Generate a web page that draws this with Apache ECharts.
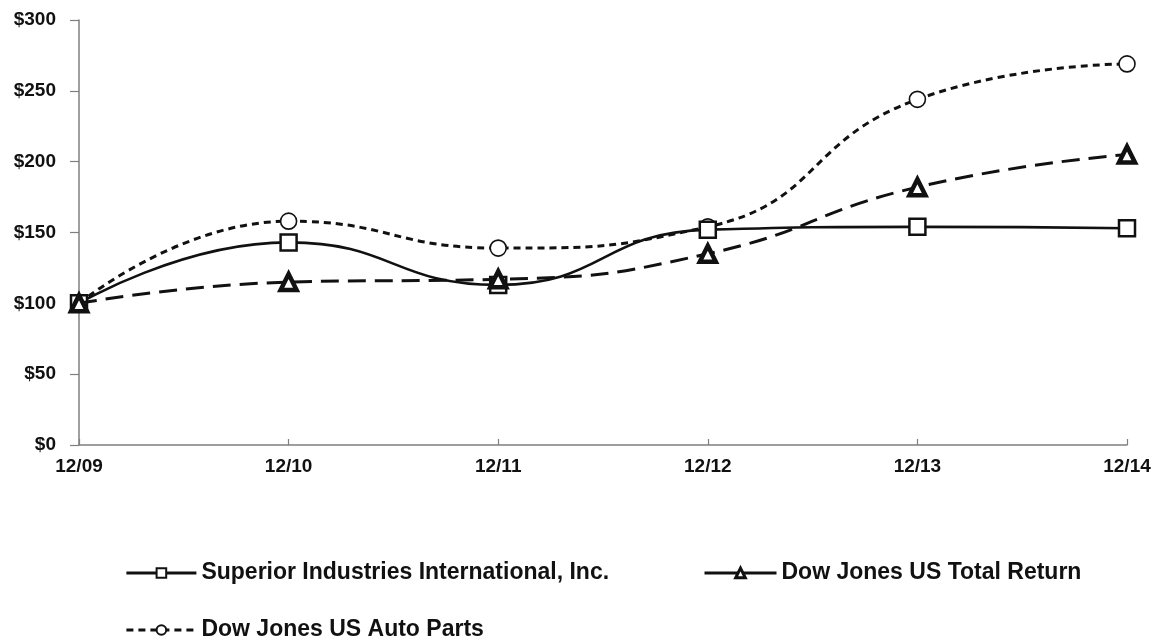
<!DOCTYPE html>
<html>
<head>
<meta charset="utf-8">
<title>Cumulative Total Return</title>
<script src="https://cdn.jsdelivr.net/npm/echarts@6/dist/echarts.min.js"></script>
<style>
  html, body { margin: 0; padding: 0; background: #ffffff; }
  #chart { width: 1156px; height: 640px; }
</style>
</head>
<body>
<div id="chart"></div>
<script>
// Fiscal year-end periods
const periods = ['12/09', '12/10', '12/11', '12/12', '12/13', '12/14'];

// Value of $100 invested, by period
const superiorValues   = [100, 143, 113, 152, 154, 153];
const totalReturnVals  = [100, 115, 117, 135, 182, 205];
const autoPartsValues  = [100, 158, 139, 154, 244, 269];

// Series names
const seriesNames = [
  'Superior Industries International, Inc.',
  'Dow Jones US Total Return',
  'Dow Jones US Auto Parts'
];

// Y axis range and tick step (dollars)
const yMin = 0, yMax = 300, yStep = 50;

const FONT = '"Liberation Sans", Arial, sans-serif';
const INK = '#111111';
const AXIS = '#7f7f7f';

const chart = echarts.init(document.getElementById('chart'), null, { renderer: 'canvas' });

const legendText = { fontFamily: FONT, fontSize: 23, fontWeight: 'bold', color: INK, lineHeight: 24 };

chart.setOption({
  animation: false,
  backgroundColor: '#ffffff',
  grid: { left: 79, right: 29, top: 20, bottom: 195, containLabel: false },
  xAxis: {
    type: 'category',
    data: periods,
    boundaryGap: false,
    axisLine: { lineStyle: { color: AXIS, width: 1.5 } },
    axisTick: { inside: true, length: 6, alignWithLabel: true, lineStyle: { color: AXIS, width: 1.2 } },
    axisLabel: { fontFamily: FONT, fontSize: 19, fontWeight: 'bold', color: INK, margin: 12 },
    splitLine: { show: false }
  },
  yAxis: {
    type: 'value',
    min: yMin,
    max: yMax,
    interval: yStep,
    axisLine: { show: true, lineStyle: { color: AXIS, width: 1.5 } },
    axisTick: { show: true, length: 9, lineStyle: { color: AXIS, width: 1.2 } },
    axisLabel: {
      fontFamily: FONT, fontSize: 19, fontWeight: 'bold', color: INK, margin: 23,
      formatter: v => '$' + v
    },
    splitLine: { show: false }
  },
  legend: [
    {
      data: [{ name: seriesNames[0], lineStyle: { width: 2.8 } }],
      left: 125, top: 561, padding: 0,
      itemWidth: 70, itemHeight: 12, textStyle: legendText
    },
    {
      data: [{ name: seriesNames[1], lineStyle: { type: 'solid', width: 3 }, itemStyle: { borderWidth: 3 } }],
      left: 703, top: 561, padding: 0,
      itemWidth: 72, itemHeight: 12, textStyle: legendText
    },
    {
      data: [{ name: seriesNames[2], lineStyle: { width: 2.8 } }],
      left: 125, top: 618, padding: 0,
      itemWidth: 70, itemHeight: 12, textStyle: legendText
    }
  ],
  series: [
    {
      name: seriesNames[0],
      type: 'line',
      data: superiorValues,
      smooth: 0.5,
      symbol: 'rect',
      symbolSize: 16,
      z: 3,
      lineStyle: { color: INK, width: 2.6, type: 'solid' },
      itemStyle: { color: '#ffffff', borderColor: INK, borderWidth: 2.5 }
    },
    {
      name: seriesNames[1],
      type: 'line',
      data: totalReturnVals,
      smooth: 0.5,
      symbol: 'triangle',
      symbolSize: 16,
      z: 4,
      lineStyle: { color: INK, width: 3, type: [18, 9] },
      itemStyle: { color: '#ffffff', borderColor: INK, borderWidth: 4.5 }
    },
    {
      name: seriesNames[2],
      type: 'line',
      data: autoPartsValues,
      smooth: 0.5,
      symbol: 'circle',
      symbolSize: 16,
      z: 2,
      lineStyle: { color: INK, width: 3, type: [7, 5] },
      itemStyle: { color: '#ffffff', borderColor: INK, borderWidth: 1.6 }
    }
  ]
});
</script>
</body>
</html>
